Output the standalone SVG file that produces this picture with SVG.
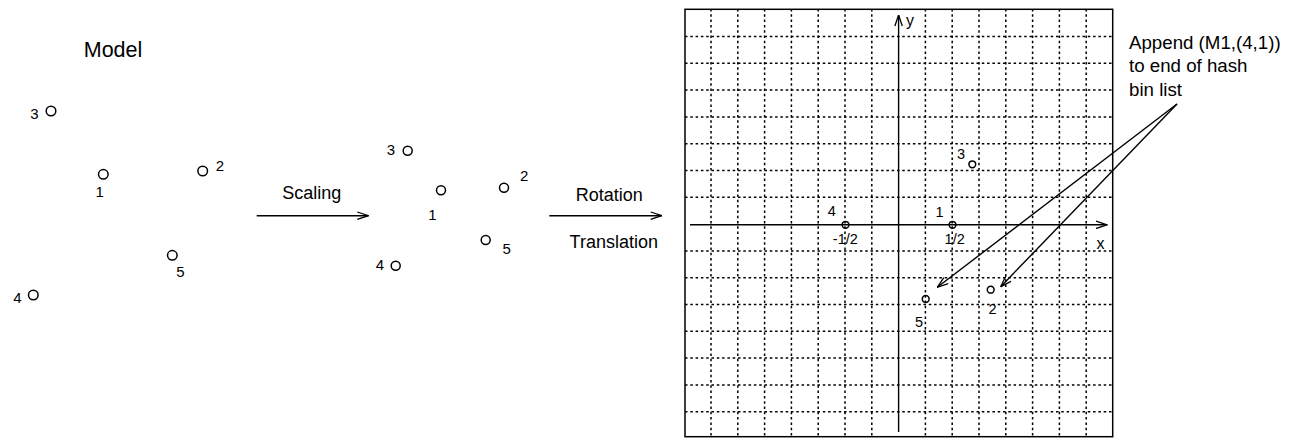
<svg xmlns="http://www.w3.org/2000/svg" width="1295" height="439" viewBox="0 0 1295 439">
<style>
text{font-family:"Liberation Sans",Arial,sans-serif;fill:#000}
.lbl{font-size:15px;text-anchor:middle}
.glbl{font-size:14.5px;text-anchor:middle}
.big{font-size:18px;text-anchor:middle}
.note{font-size:18.7px}
.pt{fill:none;stroke:#000;stroke-width:1.5}
.ln{fill:none;stroke:#000;stroke-width:1.4}
.grid line{stroke:#000;stroke-width:1.5;stroke-dasharray:2.5 2.8}
</style>
<defs>
<marker id="ah" viewBox="0 0 12 9" refX="11.5" refY="4.5" markerWidth="12" markerHeight="9" markerUnits="userSpaceOnUse" orient="auto">
<path d="M0.5,0.8 L11.5,4.5 L0.5,8.2" fill="none" stroke="#000" stroke-width="1.3"/>
</marker>
</defs>
<rect fill="#fff" x="0" y="0" width="1295" height="439"/>

<text id="title-model" x="113" y="57.3" style="font-size:21.5px;text-anchor:middle">Model</text>

<g id="model-points">
<g id="m1"><circle class="pt" cx="103.3" cy="174.3" r="4.8"/><text class="lbl" x="99.7" y="196.7">1</text></g>
<g id="m2"><circle class="pt" cx="202.7" cy="171" r="4.8"/><text class="lbl" x="220" y="170.7">2</text></g>
<g id="m3"><circle class="pt" cx="51" cy="111" r="4.8"/><text class="lbl" x="34.5" y="119.3">3</text></g>
<g id="m4"><circle class="pt" cx="33.3" cy="295" r="4.8"/><text class="lbl" x="17.5" y="302.7">4</text></g>
<g id="m5"><circle class="pt" cx="172.3" cy="255.3" r="4.8"/><text class="lbl" x="180.3" y="276.7">5</text></g>
</g>

<g id="scaled-points">
<g id="s1"><circle class="pt" cx="441" cy="190.3" r="4.5"/><text class="lbl" x="432.3" y="220">1</text></g>
<g id="s2"><circle class="pt" cx="504" cy="187.7" r="4.5"/><text class="lbl" x="524.2" y="180.7">2</text></g>
<g id="s3"><circle class="pt" cx="407.7" cy="150.7" r="4.5"/><text class="lbl" x="390.8" y="155">3</text></g>
<g id="s4"><circle class="pt" cx="395.7" cy="265.7" r="4.5"/><text class="lbl" x="380" y="270">4</text></g>
<g id="s5"><circle class="pt" cx="485.7" cy="240" r="4.5"/><text class="lbl" x="506.7" y="254.3">5</text></g>
</g>

<g id="step-labels">
<text class="big" x="311.7" y="199">Scaling</text>
<text class="big" x="609.2" y="201">Rotation</text>
<text class="big" x="613.8" y="247.7">Translation</text>
</g>

<g id="grid-plot">
<g class="grid">
<line x1="711" y1="9" x2="711" y2="437"/>
<line x1="737.8" y1="9" x2="737.8" y2="437"/>
<line x1="764.6" y1="9" x2="764.6" y2="437"/>
<line x1="791.4" y1="9" x2="791.4" y2="437"/>
<line x1="818.2" y1="9" x2="818.2" y2="437"/>
<line x1="845" y1="9" x2="845" y2="437"/>
<line x1="871.8" y1="9" x2="871.8" y2="437"/>
<line x1="925.4" y1="9" x2="925.4" y2="437"/>
<line x1="952.2" y1="9" x2="952.2" y2="437"/>
<line x1="979" y1="9" x2="979" y2="437"/>
<line x1="1005.8" y1="9" x2="1005.8" y2="437"/>
<line x1="1032.6" y1="9" x2="1032.6" y2="437"/>
<line x1="1059.4" y1="9" x2="1059.4" y2="437"/>
<line x1="1086.2" y1="9" x2="1086.2" y2="437"/>
<line x1="685" y1="36.5" x2="1113" y2="36.5"/>
<line x1="685" y1="63.3" x2="1113" y2="63.3"/>
<line x1="685" y1="90.1" x2="1113" y2="90.1"/>
<line x1="685" y1="116.9" x2="1113" y2="116.9"/>
<line x1="685" y1="143.7" x2="1113" y2="143.7"/>
<line x1="685" y1="170.5" x2="1113" y2="170.5"/>
<line x1="685" y1="197.3" x2="1113" y2="197.3"/>
<line x1="685" y1="250.9" x2="1113" y2="250.9"/>
<line x1="685" y1="277.7" x2="1113" y2="277.7"/>
<line x1="685" y1="304.5" x2="1113" y2="304.5"/>
<line x1="685" y1="331.3" x2="1113" y2="331.3"/>
<line x1="685" y1="358.1" x2="1113" y2="358.1"/>
<line x1="685" y1="384.9" x2="1113" y2="384.9"/>
<line x1="685" y1="411.7" x2="1113" y2="411.7"/>
</g>
<rect x="685" y="9.3" width="427.7" height="427.4" fill="none" stroke="#000" stroke-width="1.5"/>
<line id="x-axis" class="ln" x1="690" y1="224.8" x2="1107" y2="224.8" marker-end="url(#ah)"/>
<line id="y-axis" class="ln" x1="898.6" y1="432" x2="898.6" y2="15" marker-end="url(#ah)"/>
<text x="906" y="26" style="font-size:16px">y</text>
<text x="1096.5" y="248.5" style="font-size:16px">x</text>
<text class="glbl" x="845.3" y="244">-1/2</text>
<text class="glbl" x="954.7" y="244">1/2</text>
</g>

<g id="transformed-points">
<g id="t1"><circle class="pt" cx="952.5" cy="224.8" r="3.4"/><text class="glbl" x="939.5" y="216.5">1</text></g>
<g id="t2"><circle class="pt" cx="990.7" cy="289.7" r="3.4"/><text class="glbl" x="992.5" y="314">2</text></g>
<g id="t3"><circle class="pt" cx="972.3" cy="164.3" r="3.4"/><text class="glbl" x="961" y="158.5">3</text></g>
<g id="t4"><circle class="pt" cx="845.5" cy="224.8" r="3.4"/><text class="glbl" x="831.8" y="216">4</text></g>
<g id="t5"><circle class="pt" cx="925.7" cy="299" r="3.4"/><text class="glbl" x="919" y="327">5</text></g>
</g>

<g id="annotation">
<text class="note" x="1129" y="48.5">Append (M1,(4,1))</text>
<text class="note" x="1129" y="72">to end of hash</text>
<text class="note" x="1129" y="95.5">bin list</text>
</g>

<g id="connectors">
<line class="ln" x1="256.7" y1="215.7" x2="368.3" y2="215.7" marker-end="url(#ah)"/>
<line class="ln" x1="549.3" y1="215.7" x2="661.7" y2="215.7" marker-end="url(#ah)"/>
<line class="ln" x1="1177" y1="104" x2="937.3" y2="287.3" marker-end="url(#ah)"/>
<line class="ln" x1="1177" y1="104" x2="1000.7" y2="286.7" marker-end="url(#ah)"/>
</g>
</svg>
